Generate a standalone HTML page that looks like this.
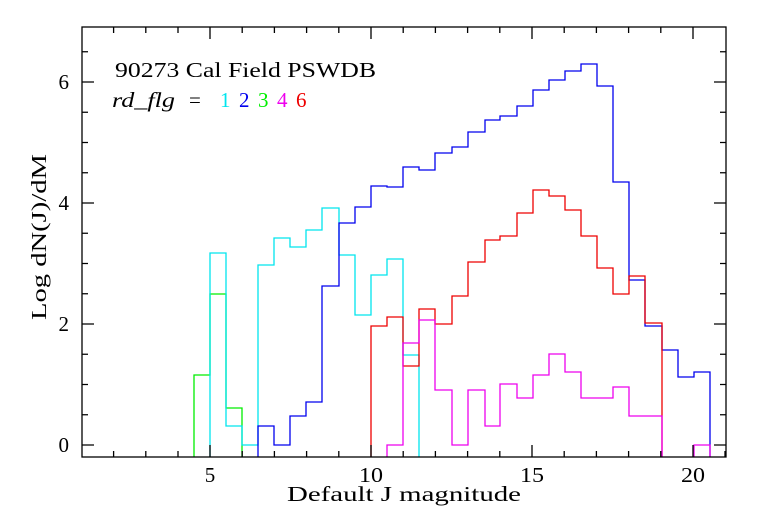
<!DOCTYPE html>
<html><head><meta charset="utf-8"><style>
html,body{margin:0;padding:0;background:#fff;}
svg{display:block;}
text{font-family:"Liberation Serif","DejaVu Serif",serif;}
</style></head><body>
<svg width="768" height="512" viewBox="0 0 768 512" xmlns="http://www.w3.org/2000/svg">
<rect x="0" y="0" width="768" height="512" fill="#fff"/>
<g fill="none" stroke-width="1.3">
<polyline stroke="#00ee00" points="194,457 194,375 210,375 210,294 226,294 226,408 242,408 242,457"/>
<polyline stroke="#00e5ee" points="210,457 210,253 226,253 226,426 242,426 242,445 258,445 258,265 274,265 274,238 290,238 290,247 306,247 306,230 322,230 322,208 339,208 339,255 355,255 355,315 371,315 371,275 387,275 387,259 403,259 403,355 419,355 419,457"/>
<polyline stroke="#0000ee" points="258,457 258,426 274,426 274,445 290,445 290,416 306,416 306,402 322,402 322,286 339,286 339,223 355,223 355,207 371,207 371,186 387,186 387,187 403,187 403,167 419,167 419,170 435,170 435,153 452,153 452,147 468,147 468,132 485,132 485,120 500,120 500,116 517,116 517,106 533,106 533,90 549,90 549,80 565,80 565,71 581,71 581,64 597,64 597,86 613,86 613,182 629,182 629,280 645,280 645,326 662,326 662,350 678,350 678,377 694,377 694,372 710,372 710,457"/>
<polyline stroke="#ee0000" points="371,457 371,326 387,326 387,317 403,317 403,366 419,366 419,309 435,309 435,324 452,324 452,296 468,296 468,262 485,262 485,240 500,240 500,236 517,236 517,213 533,213 533,190 549,190 549,196 565,196 565,210 581,210 581,236 597,236 597,268 613,268 613,294 629,294 629,276 645,276 645,323 662,323 662,457"/>
<polyline stroke="#ee00ee" points="387,457 387,445 403,445 403,343 419,343 419,320 435,320 435,390 452,390 452,445 468,445 468,390 485,390 485,426 500,426 500,384 517,384 517,398 533,398 533,375 549,375 549,354 565,354 565,372 581,372 581,398 597,398 597,398 613,398 613,387 629,387 629,416 645,416 645,416 662,416 662,457"/>
<polyline stroke="#ee00ee" points="694,457 694,445 710,445 710,457"/>
</g>
<rect x="82" y="27" width="644" height="430" fill="none" stroke="#000" stroke-width="1.3"/>
<g stroke="#000" stroke-width="1.3">
<path d="M113.6,457v-6M145.8,457v-6M178,457v-6M242.2,457v-6M274.4,457v-6M306.6,457v-6M338.8,457v-6M403.2,457v-6M435.4,457v-6M467.6,457v-6M499.8,457v-6M564.2,457v-6M596.4,457v-6M628.6,457v-6M660.8,457v-6M725,457v-6
M113.6,27v6M145.8,27v6M178,27v6M242.2,27v6M274.4,27v6M306.6,27v6M338.8,27v6M403.2,27v6M435.4,27v6M467.6,27v6M499.8,27v6M564.2,27v6M596.4,27v6M628.6,27v6M660.8,27v6"/>
<path d="M210,457v-12M371,457v-12M532,457v-12M693,457v-12M210,27v12M371,27v12M532,27v12M693,27v12"/>
<path d="M82,445h12M82,324h12M82,203h12M82,82h12M726,445h-12M726,324h-12M726,203h-12M726,82h-12"/>
<path d="M82,414.75h6M82,384.5h6M82,354.25h6M82,293.75h6M82,263.5h6M82,233.25h6M82,172.75h6M82,142.5h6M82,112.25h6M82,51.75h6
M726,414.75h-6M726,384.5h-6M726,354.25h-6M726,293.75h-6M726,263.5h-6M726,233.25h-6M726,172.75h-6M726,142.5h-6M726,112.25h-6M726,51.75h-6"/>
</g>
<g font-size="21" text-anchor="middle" style="fill:#000">
<text x="210" y="482">5</text>
<text x="371" y="482" textLength="24" lengthAdjust="spacingAndGlyphs">10</text>
<text x="532" y="482" textLength="24" lengthAdjust="spacingAndGlyphs">15</text>
<text x="693" y="482" textLength="24" lengthAdjust="spacingAndGlyphs">20</text>
</g>
<g font-size="21" text-anchor="end" style="fill:#000">
<text x="69" y="452">0</text>
<text x="69" y="331">2</text>
<text x="69" y="210">4</text>
<text x="69" y="89">6</text>
</g>
<text x="287" y="501" font-size="21" style="fill:#000" textLength="234" lengthAdjust="spacingAndGlyphs">Default J magnitude</text>
<text transform="translate(46,320) rotate(-90)" font-size="21" style="fill:#000" textLength="166" lengthAdjust="spacingAndGlyphs">Log dN(J)/dM</text>
<text x="115" y="77" font-size="21" style="fill:#000" textLength="261" lengthAdjust="spacingAndGlyphs">90273 Cal Field PSWDB</text>
<g font-size="21">
<text x="112" y="107" font-style="italic" style="fill:#000" textLength="63" lengthAdjust="spacingAndGlyphs">rd_flg</text>
<text x="189" y="107" style="fill:#000">=</text>
<text x="220" y="107" style="fill:#00e5ee">1</text>
<text x="239" y="107" style="fill:#0000ee">2</text>
<text x="258" y="107" style="fill:#00ee00">3</text>
<text x="277" y="107" style="fill:#ee00ee">4</text>
<text x="296" y="107" style="fill:#ee0000">6</text>
</g>
</svg>
</body></html>
